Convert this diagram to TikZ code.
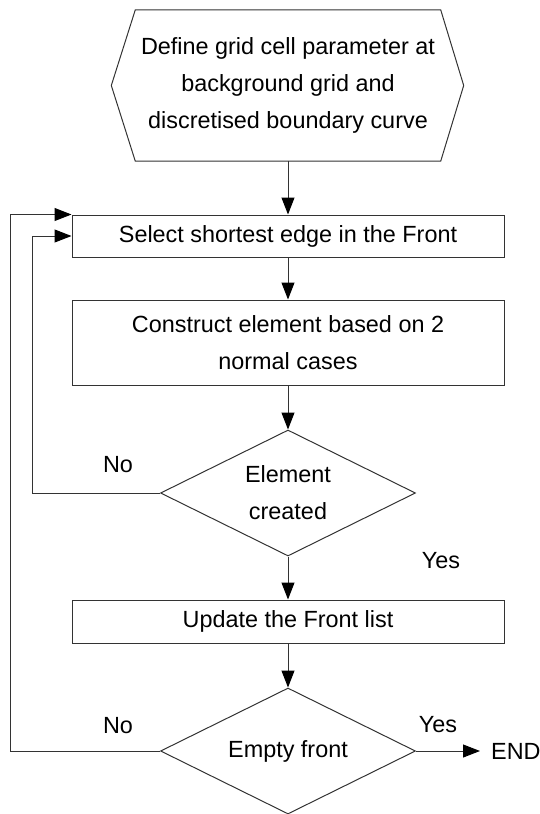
\documentclass[tikz,border=0pt]{standalone}
\usepackage{fontspec}
\setmainfont{Liberation Sans}
\usetikzlibrary{arrows.meta,shapes.geometric,calc}
\begin{document}
\begin{tikzpicture}[x=1pt,y=-1pt,
  font=\fontsize{23.4}{37}\selectfont,
  line/.style={draw=black!80, line width=1pt},
  arr/.style={line, -{Triangle[length=17pt,width=13pt,color=black]}},
  proc/.style={line, rectangle, minimum width=432pt, inner sep=0pt, align=center, text=black},
  dec/.style={line, diamond, aspect=2.02, minimum width=255pt, minimum height=126pt, inner sep=0pt, align=center, text=black},
  lbl/.style={inner sep=0pt, text=black}]
\useasboundingbox (0,0) rectangle (540,814);
% start hexagon
\node[minimum width=305pt, minimum height=151pt, inner sep=0pt, align=center, text=black] (hex) at (288,85.5)
  {Define grid cell parameter at\\background grid and\\discretised boundary curve};
\draw[line] (hex.north west) -- (hex.north east) -- ($(hex.east)+(23,0)$) -- (hex.south east)
  -- (hex.south west) -- ($(hex.west)+(-24,0)$) -- cycle;
% process boxes
\node[proc, minimum height=42pt] (b1) at (288,236) {Select shortest edge in the Front};
\node[proc, minimum height=85pt] (b2) at (288,342.5) {Construct element based on 2\\normal cases};
\node[dec] (d1) at (288,493) {Element\\created};
\node[proc, minimum height=43pt] (b3) at (288,621.5) {Update the Front list};
\node[dec] (d2) at (288,751) {Empty front};
\node[lbl, anchor=west] (end) at (491,751) {END};
% main flow
\draw[arr] (hex.south) -- (b1.north);
\draw[arr] (b1.south) -- (b2.north);
\draw[arr] (b2.south) -- (d1.north);
\draw[arr] (d1.south) -- (b3.north);
\draw[arr] (b3.south) -- (d2.north);
\draw[arr] (d2.east) -- ([xshift=-11pt]end.west);
% loops
\coordinate (c1) at (32,493);
\coordinate (c2) at (10,751);
\draw[arr] (d1.west) -- (c1) |- (b1.west);
\draw[arr] (d2.west) -- (c2) |- (b1.north west);
% labels
\node[lbl] (no1) at (118,465) {No};
\node[lbl] (yes1) at (441,561) {Yes};
\node[lbl] (no2) at (118,726) {No};
\node[lbl] (yes2) at (438,725) {Yes};
\end{tikzpicture}
\end{document}
